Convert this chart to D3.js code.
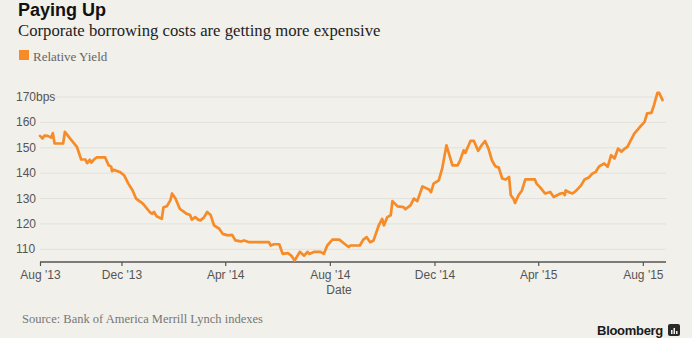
<!DOCTYPE html>
<html>
<head>
<meta charset="utf-8">
<script src="https://cdn.jsdelivr.net/npm/d3@7"></script>
<style>
  html, body { margin: 0; padding: 0; background: #f1f0eb; }
  svg { display: block; }
</style>
</head>
<body>
<svg id="chart" width="692" height="338"></svg>
<script>
// relative yield of corporate bonds, bps
const dates = [
  '2013-08-28', '2013-08-31', '2013-09-02', '2013-09-06', '2013-09-10', '2013-09-12', '2013-09-14',
  '2013-09-24', '2013-09-26', '2013-10-02', '2013-10-10', '2013-10-15', '2013-10-20', '2013-10-22',
  '2013-10-25', '2013-10-27', '2013-10-30', '2013-11-02', '2013-11-12', '2013-11-16', '2013-11-19',
  '2013-11-20', '2013-11-22', '2013-11-29', '2013-12-04', '2013-12-09', '2013-12-14', '2013-12-18',
  '2013-12-26', '2014-01-03', '2014-01-06', '2014-01-08', '2014-01-11', '2014-01-17', '2014-01-19',
  '2014-01-23', '2014-01-27', '2014-01-29', '2014-02-02', '2014-02-07', '2014-02-15', '2014-02-19',
  '2014-02-21', '2014-02-25', '2014-02-28', '2014-03-03', '2014-03-07', '2014-03-11', '2014-03-15',
  '2014-03-19', '2014-03-25', '2014-03-29', '2014-04-04', '2014-04-09', '2014-04-13', '2014-04-19',
  '2014-04-23', '2014-04-29', '2014-05-22', '2014-05-24', '2014-05-28', '2014-06-03', '2014-06-07',
  '2014-06-13', '2014-06-17', '2014-06-21', '2014-06-27', '2014-07-02', '2014-07-06', '2014-07-08',
  '2014-07-14', '2014-07-21', '2014-07-25', '2014-07-29', '2014-08-04', '2014-08-12', '2014-08-18',
  '2014-08-23', '2014-08-25', '2014-09-05', '2014-09-09', '2014-09-13', '2014-09-17', '2014-09-21',
  '2014-09-27', '2014-10-01', '2014-10-03', '2014-10-07', '2014-10-11', '2014-10-13', '2014-10-19',
  '2014-10-26', '2014-10-28', '2014-11-03', '2014-11-07', '2014-11-11', '2014-11-17', '2014-11-25',
  '2014-11-27', '2014-11-30', '2014-12-06', '2014-12-10', '2014-12-15', '2014-12-22', '2014-12-28',
  '2014-12-31', '2015-01-04', '2015-01-06', '2015-01-12', '2015-01-16', '2015-01-21', '2015-01-25',
  '2015-01-29', '2015-02-02', '2015-02-06', '2015-02-10', '2015-02-14', '2015-02-18', '2015-02-22',
  '2015-02-26', '2015-02-28', '2015-03-03', '2015-03-05', '2015-03-09', '2015-03-13', '2015-03-17',
  '2015-03-28', '2015-03-30', '2015-04-03', '2015-04-09', '2015-04-15', '2015-04-19', '2015-04-27',
  '2015-04-30', '2015-05-02', '2015-05-03', '2015-05-07', '2015-05-11', '2015-05-15', '2015-05-21',
  '2015-05-25', '2015-05-30', '2015-06-03', '2015-06-07', '2015-06-11', '2015-06-17', '2015-06-21',
  '2015-06-25', '2015-06-29', '2015-07-03', '2015-07-07', '2015-07-11', '2015-07-14', '2015-07-22',
  '2015-07-28', '2015-08-03', '2015-08-06', '2015-08-11', '2015-08-14', '2015-08-18', '2015-08-20',
  '2015-08-24'
];

const yields = [
  154.7, 153.7, 154.8, 154.7, 154.0, 155.8, 151.7,
  151.7, 156.3, 153.7, 150.4, 145.4, 145.4, 144.0,
  145.3, 144.2, 145.4, 146.2, 146.2, 143.1, 142.6,
  140.8, 141.3, 140.5, 139.2, 135.9, 133.2, 130.0,
  128.0, 124.7, 124.0, 124.7, 123.0, 122.0, 126.6,
  127.0, 129.3, 132.0, 130.0, 126.0, 124.0, 123.5,
  121.7, 122.7, 121.8, 121.4, 122.5, 124.7, 123.5,
  119.4, 118.1, 116.1, 115.5, 115.7, 113.5, 113.1,
  113.5, 112.8, 112.8, 111.5, 112.0, 112.0, 108.2,
  108.5, 107.5, 105.6, 109.0, 107.5, 109.0, 108.2,
  109.0, 109.0, 108.2, 111.5, 113.8, 113.8, 112.2,
  110.9, 111.5, 111.5, 113.8, 114.8, 112.8, 113.5,
  119.4, 122.0, 119.4, 122.7, 123.4, 129.0, 126.9,
  126.6, 125.8, 127.3, 130.0, 129.0, 134.8, 133.5,
  132.5, 135.9, 137.2, 141.8, 151.0, 143.1, 143.1,
  145.1, 149.0, 148.0, 152.7, 152.7, 148.8, 151.0,
  152.7, 149.7, 145.1, 142.7, 142.2, 137.9, 137.5,
  138.5, 131.3, 130.0, 128.3, 131.3, 133.2, 137.6,
  137.6, 135.9, 134.5, 132.0, 132.6, 130.6, 132.0,
  132.2, 131.4, 133.2, 132.5, 132.0, 133.0, 135.2,
  137.5, 138.3, 139.8, 140.5, 142.7, 143.8, 142.5,
  147.1, 145.8, 149.7, 148.5, 149.7, 150.4, 155.6,
  158.0, 160.2, 163.6, 163.8, 166.8, 171.7, 171.7,
  168.8
];

const xDomain = ['2013-08-28', '2015-08-28'];
const xTicks = ['2013-08-28', '2013-12-01', '2014-04-01', '2014-08-01', '2014-12-01', '2015-04-01', '2015-08-01'];
const yTicks = [110, 120, 130, 140, 150, 160, 170];

const parse = d3.utcParse('%Y-%m-%d');
const fmt = d3.utcFormat("%b '%y");
const data = dates.map((d, i) => ({ date: parse(d), value: yields[i] }));

const svg = d3.select('#chart');
const sans = '"Liberation Sans", Arial, Helvetica, sans-serif';
const serif = '"Liberation Serif", "Times New Roman", serif';

const x = d3.scaleUtc().domain(xDomain.map(parse)).range([40, 666]);
const y = d3.scaleLinear().domain([105, 172]).range([262, 92]);

// header
svg.append('text')
  .attr('x', 18).attr('y', 16)
  .style('font', `bold 18px ${sans}`)
  .attr('fill', '#111')
  .text('Paying Up');

svg.append('text')
  .attr('x', 18).attr('y', 36)
  .style('font', `16.7px ${serif}`)
  .attr('fill', '#222')
  .text('Corporate borrowing costs are getting more expensive');

svg.append('rect')
  .attr('x', 19).attr('y', 50).attr('width', 10).attr('height', 10)
  .attr('fill', '#f68b27');

svg.append('text')
  .attr('x', 33).attr('y', 60.5)
  .style('font', `13px ${serif}`)
  .attr('fill', '#666')
  .text('Relative Yield');

// grid + y labels
svg.append('g')
  .selectAll('line')
  .data(yTicks)
  .join('line')
  .attr('x1', 40).attr('x2', 666)
  .attr('y1', d => y(d)).attr('y2', d => y(d))
  .attr('stroke', '#e2e1dc')
  .attr('stroke-width', 1);

svg.append('g')
  .selectAll('text')
  .data(yTicks)
  .join('text')
  .attr('x', 16)
  .attr('y', d => y(d) + 4)
  .style('font', `12px ${sans}`)
  .attr('fill', '#555')
  .text(d => d === 170 ? d + 'bps' : d);

// x axis
const xAxis = svg.append('g')
  .attr('transform', 'translate(0,262)')
  .call(d3.axisBottom(x)
    .tickValues(xTicks.map(parse))
    .tickFormat(fmt)
    .tickSize(4)
    .tickPadding(4));

xAxis.select('.domain').attr('stroke', '#555').attr('stroke-width', 1.5).attr('d', 'M40,0H666');
xAxis.selectAll('.tick line').attr('stroke', '#555').attr('stroke-width', 1.2);
xAxis.selectAll('.tick text')
  .style('font', `12px ${sans}`)
  .attr('fill', '#555');

svg.append('text')
  .attr('x', 339).attr('y', 294)
  .attr('text-anchor', 'middle')
  .style('font', `12px ${sans}`)
  .attr('fill', '#555')
  .text('Date');

// the line
const line = d3.line()
  .x(d => x(d.date))
  .y(d => y(d.value));

svg.append('path')
  .datum(data)
  .attr('d', line)
  .attr('fill', 'none')
  .attr('stroke', '#f68b27')
  .attr('stroke-width', 2.7)
  .attr('stroke-linejoin', 'round')
  .attr('stroke-linecap', 'round');

// footer
svg.append('text')
  .attr('x', 22).attr('y', 322.5)
  .style('font', `12.5px ${serif}`)
  .attr('fill', '#777')
  .text('Source: Bank of America Merrill Lynch indexes');

svg.append('text')
  .attr('x', 663).attr('y', 335)
  .attr('text-anchor', 'end')
  .style('font', `bold 13px ${sans}`)
  .style('letter-spacing', '-0.3px')
  .attr('fill', '#1a1a1a')
  .text('Bloomberg');

const logo = svg.append('g').attr('transform', 'translate(668,324)');
logo.append('rect')
  .attr('width', 12).attr('height', 12).attr('rx', 2)
  .attr('fill', '#2a2a2a');
logo.selectAll('.bar')
  .data([4, 6, 3])
  .join('rect')
  .attr('x', (d, i) => 3 + i * 2.5)
  .attr('y', d => 10 - d)
  .attr('width', 1.5)
  .attr('height', d => d)
  .attr('fill', '#f1f0eb');
</script>
</body>
</html>
